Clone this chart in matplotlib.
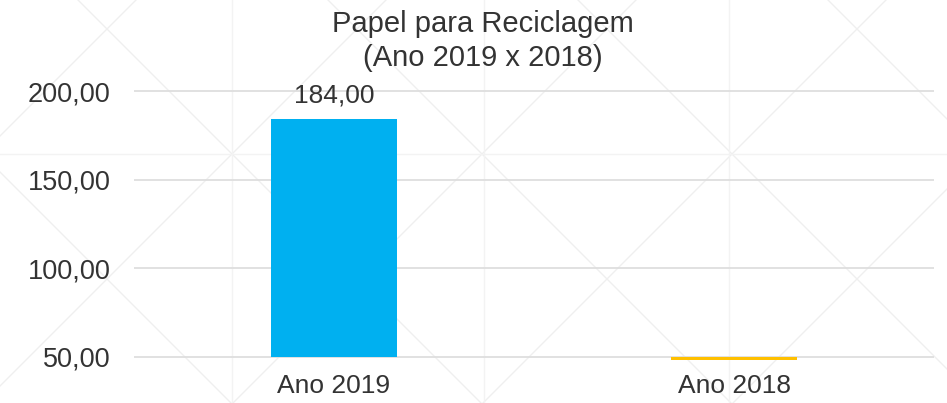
import numpy as np
import matplotlib
matplotlib.use('Agg')
import matplotlib.pyplot as plt
from matplotlib.lines import Line2D

plt.rcParams['font.family'] = ['Liberation Sans', 'DejaVu Sans']

# data
categories = ['Ano 2019', 'Ano 2018']
values = [184.0, 0.0]
bar_colors = ['#00B0F0', '#FFC000']
y_ticks = [50, 100, 150, 200]
title_lines = ['Papel para Reciclagem', '(Ano 2019 x 2018)']

TEXT = '#333333'
W, H = 947, 403

fig = plt.figure(figsize=(W / 100, H / 100), dpi=100)
fig.patch.set_facecolor('white')

# faint watermark pattern behind the chart (pixel coords, y from top)
wm = '#efefef'
for k in range(-3, 8):
    c1 = -78 + 250 * k   # y = x + c1
    c2 = 386 + 250 * k   # y = -x + c2
    for xs, ys in (([0, W], [c1, W + c1]), ([0, W], [c2, c2 - W])):
        fig.add_artist(Line2D(np.array(xs) / W, 1 - np.array(ys) / H,
                              transform=fig.transFigure, color=wm, lw=1.0, zorder=0))
for xv in (232, 484, 729):
    fig.add_artist(Line2D([xv / W, xv / W], [0, 1], transform=fig.transFigure,
                          color='#f3f3f3', lw=1.0, zorder=0))
fig.add_artist(Line2D([0, 1], [1 - 154 / H, 1 - 154 / H], transform=fig.transFigure,
                      color='#f3f3f3', lw=1.0, zorder=0))

ax = fig.add_axes([134 / W, (H - 360) / H, 800 / W, 275 / H])
ax.patch.set_alpha(0)

x = np.arange(len(categories))
base = y_ticks[0]
heights = [v - base for v in values]
bars = ax.bar(x, heights, bottom=base, width=0.315, color=bar_colors, zorder=3)

ax.set_xlim(-0.5, len(categories) - 0.5)
ax.set_ylim(base - 3 / 1.7733, 200 + 6 / 1.7733)
ax.set_yticks(y_ticks)
ax.set_yticklabels([f'{t:.2f}'.replace('.', ',') for t in y_ticks])
ax.set_xticks(x)
ax.set_xticklabels(categories)
ax.tick_params(axis='both', length=0, labelcolor=TEXT)
ax.tick_params(axis='y', pad=17, labelsize=19.5)
ax.tick_params(axis='x', pad=10, labelsize=19)
ax.yaxis.grid(True, color='#dedede', lw=1.3, zorder=0)
for s in ax.spines.values():
    s.set_visible(False)

# data label only for the visible bar
ax.annotate(f'{values[0]:.2f}'.replace('.', ','), (x[0], values[0]),
            xytext=(0, 12.5), textcoords='offset points',
            ha='center', va='baseline', fontsize=19, color=TEXT)

fig.text(483 / W, 1 - 32 / H, title_lines[0], ha='center', va='baseline', fontsize=21, color=TEXT)
fig.text(483 / W, 1 - 66 / H, title_lines[1], ha='center', va='baseline', fontsize=21, color=TEXT)

fig.savefig('out.png', dpi=100, facecolor='white')
